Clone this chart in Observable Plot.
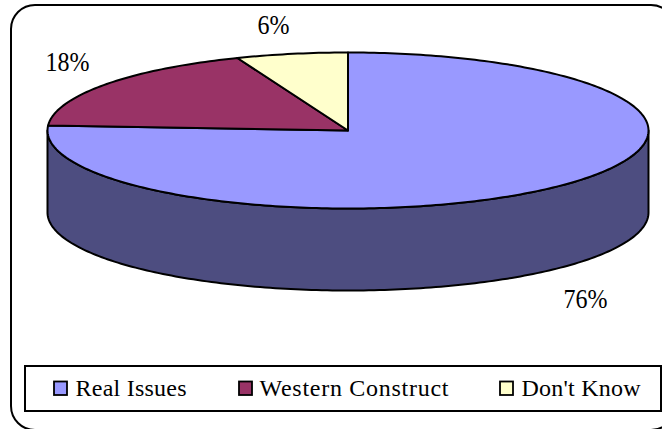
<!DOCTYPE html>
<html>
<head>
<meta charset="utf-8">
<script src="https://cdn.jsdelivr.net/npm/d3@7"></script>
<script src="https://cdn.jsdelivr.net/npm/@observablehq/plot@0.6"></script>
<style>
html,body{margin:0;padding:0;background:#fff;overflow:hidden}
</style>
</head>
<body>
<div id="chart"></div>
<script>
const categories = ["Real Issues", "Western Construct", "Don't Know"];
const values = [76, 18, 6];
const labels = ["76%", "18%", "6%"];
const colors = ["#9999ff", "#993366", "#ffffcc"];
const sideColor = "#4d4d80";

const cx = 347.5, cy = 130, rx = 300.5, ry = 78, depth = 82;
const pt = (deg, dy = 0) => {
  const a = deg * Math.PI / 180;
  return {x: cx + rx * Math.sin(a), y: cy - ry * Math.cos(a) + dy};
};

// top-face slices, clockwise from twelve o'clock
const sliceRows = [];
let start = 0;
categories.forEach((c, i) => {
  const end = start + values[i] * 3.6;
  sliceRows.push({slice: c, x: cx, y: cy});
  for (let d = start; d < end; d += 1) sliceRows.push({slice: c, ...pt(d)});
  sliceRows.push({slice: c, ...pt(end)});
  start = end;
});

// visible rim: front half of the ellipse and the same arc lowered by the depth
const sideRows = [];
for (let d = 90; d <= 270; d += 1) sideRows.push(pt(d));
for (let d = 270; d >= 90; d -= 1) sideRows.push(pt(d, depth));

const frameBox = [{x1: 11, x2: 675, y1: 5, y2: 430}];
const legendBox = [{x1: 25, x2: 661, y1: 366, y2: 411}];
const swatches = [
  {cat: categories[0], x1: 54, x2: 67, y1: 381.5, y2: 395, tx: 75},
  {cat: categories[1], x1: 239, x2: 252, y1: 381.5, y2: 395, tx: 259},
  {cat: categories[2], x1: 500, x2: 513, y1: 381.5, y2: 395, tx: 521}
];
const legendWidths = {"Real Issues": 111, "Western Construct": 189, "Don't Know": 119};
const labelRows = [
  {t: labels[0], x: 585, y: 307.5},
  {t: labels[1], x: 67, y: 70},
  {t: labels[2], x: 273, y: 33}
];
const labelWidths = {"76%": 44, "18%": 44, "6%": 32};

const font = "Liberation Serif";
const chart = Plot.plot({
  width: 662, height: 429,
  margin: 0,
  style: {background: "#fff", fontFamily: font},
  x: {domain: [0, 662], range: [0, 662], axis: null},
  y: {domain: [0, 429], range: [0, 429], axis: null},
  color: {domain: categories, range: colors},
  marks: [
    Plot.rect(frameBox, {x1: "x1", x2: "x2", y1: "y1", y2: "y2", fill: "#fff", stroke: "#000", strokeWidth: 2, rx: 24}),
    Plot.line(sideRows, {x: "x", y: "y", fill: sideColor, stroke: "#000", strokeWidth: 2, curve: "linear-closed"}),
    Plot.line(sliceRows, {x: "x", y: "y", z: "slice", fill: "slice", stroke: "#000", strokeWidth: 2, curve: "linear-closed", strokeLinejoin: "round"}),
    Plot.text(labelRows, {x: "x", y: "y", text: "t", fontSize: 27, lineAnchor: "bottom", fill: "#000"}),
    Plot.rect(legendBox, {x1: "x1", x2: "x2", y1: "y1", y2: "y2", fill: "#fff", stroke: "#000", strokeWidth: 2}),
    Plot.rect(swatches, {x1: "x1", x2: "x2", y1: "y1", y2: "y2", fill: "cat", stroke: "#000", strokeWidth: 1.8}),
    Plot.text(swatches, {x: "tx", y: "y2", text: "cat", fontSize: 24, textAnchor: "start", lineAnchor: "bottom", fill: "#000", dy: 0})
  ]
});
d3.select(chart).selectAll("text").each(function () {
  const t = this.textContent;
  if (legendWidths[t]) this.setAttribute("textLength", legendWidths[t]);
  if (labelWidths[t]) {
    this.setAttribute("textLength", labelWidths[t]);
    this.setAttribute("lengthAdjust", "spacingAndGlyphs");
  }
});
document.getElementById("chart").append(chart);
</script>
</body>
</html>
